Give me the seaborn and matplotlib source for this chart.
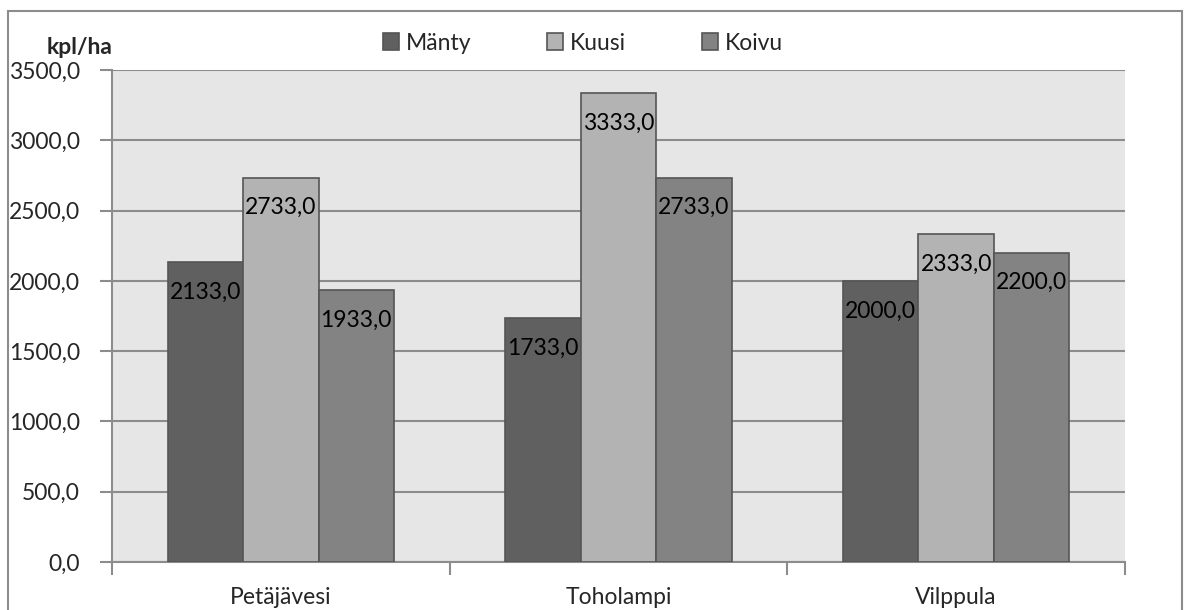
import matplotlib
matplotlib.use("Agg")
import matplotlib.pyplot as plt
from matplotlib.patches import Rectangle
from matplotlib.ticker import FixedLocator, FuncFormatter
import pandas as pd
import seaborn as sns

# Stand density (kpl/ha) per site and tree species
sites = ["Petäjävesi", "Toholampi", "Vilppula"]
species = ["Mänty", "Kuusi", "Koivu"]
manty = [2133.0, 1733.0, 2000.0]
kuusi = [2733.0, 3333.0, 2333.0]
koivu = [1933.0, 2733.0, 2200.0]
y_unit = "kpl/ha"

colors = ["#606060", "#b3b3b3", "#838383"]
edge = "#555555"
grid_col = "#8c8c8c"

df = pd.DataFrame({
    "site": sites * 3,
    "species": [species[0]] * 3 + [species[1]] * 3 + [species[2]] * 3,
    "value": manty + kuusi + koivu,
})

sns.set_theme(style="white")
plt.rcParams["font.family"] = ["Lato", "DejaVu Sans"]

W, H = 1186, 610
fig = plt.figure(figsize=(W / 100, H / 100), dpi=100)
ax = fig.add_axes([112 / W, (H - 562) / H, (1125 - 112) / W, (562 - 70) / H])
ax.set_facecolor("#e6e6e6")

sns.barplot(data=df, x="site", y="value", hue="species", order=sites,
            hue_order=species, palette=colors, width=0.67, gap=0,
            edgecolor=edge, linewidth=1.2, saturation=1, ax=ax, legend=False,
            zorder=3)

fs = 16.5

# value labels just inside the bar tops
for cont in ax.containers:
    for patch in cont:
        h = patch.get_height()
        ax.annotate(f"{h:.1f}".replace(".", ","),
                    (patch.get_x() + patch.get_width() / 2, h),
                    xytext=(0, -30), textcoords="offset pixels",
                    ha="center", va="center", fontsize=fs, color="black",
                    zorder=5)

ax.set_ylim(0, 3500)
ax.set_xlim(-0.5, 2.5)
ax.yaxis.set_major_locator(FixedLocator([i * 500 for i in range(8)]))
ax.yaxis.set_major_formatter(FuncFormatter(lambda v, p: f"{v:.1f}".replace(".", ",")))
ax.grid(axis="y", color=grid_col, linewidth=1.5, zorder=0)
ax.set_axisbelow(True)
ax.set_xlabel("")
ax.set_ylabel("")

ax.xaxis.set_minor_locator(FixedLocator([-0.5, 0.5, 1.5, 2.5]))
ax.tick_params(axis="x", which="major", length=0, labelsize=fs, pad=18)
ax.tick_params(axis="x", which="minor", length=9, width=1.5, color=grid_col,
               direction="out", bottom=True)
ax.tick_params(axis="y", length=9, width=1.5, color=grid_col, labelsize=fs,
               pad=14, left=True)

for s in ["top", "right"]:
    ax.spines[s].set_visible(False)
for s in ["left", "bottom"]:
    ax.spines[s].set_color(grid_col)
    ax.spines[s].set_linewidth(1.5)

# legend across the top
handles = [Rectangle((0, 0), 1, 1, facecolor=c, edgecolor=edge, linewidth=1.2)
           for c in colors]
fig.legend(handles, species, loc="center left",
           bbox_to_anchor=(383 / W, (H - 43) / H), ncol=3, frameon=False,
           fontsize=fs, handlelength=0.7, handleheight=0.7,
           handletextpad=0.3, columnspacing=3.3, borderpad=0, borderaxespad=0)

fig.text(113 / W, (H - 47) / H, y_unit, ha="right", va="center",
         fontsize=fs, fontweight="bold")

# outer chart frame
fig.patches.append(Rectangle((8 / W, -0.05), (1182 - 8) / W, (H - 11) / H + 0.05,
                             transform=fig.transFigure, fill=False,
                             edgecolor=grid_col, linewidth=1.5))

fig.savefig("out.png", dpi=100)
